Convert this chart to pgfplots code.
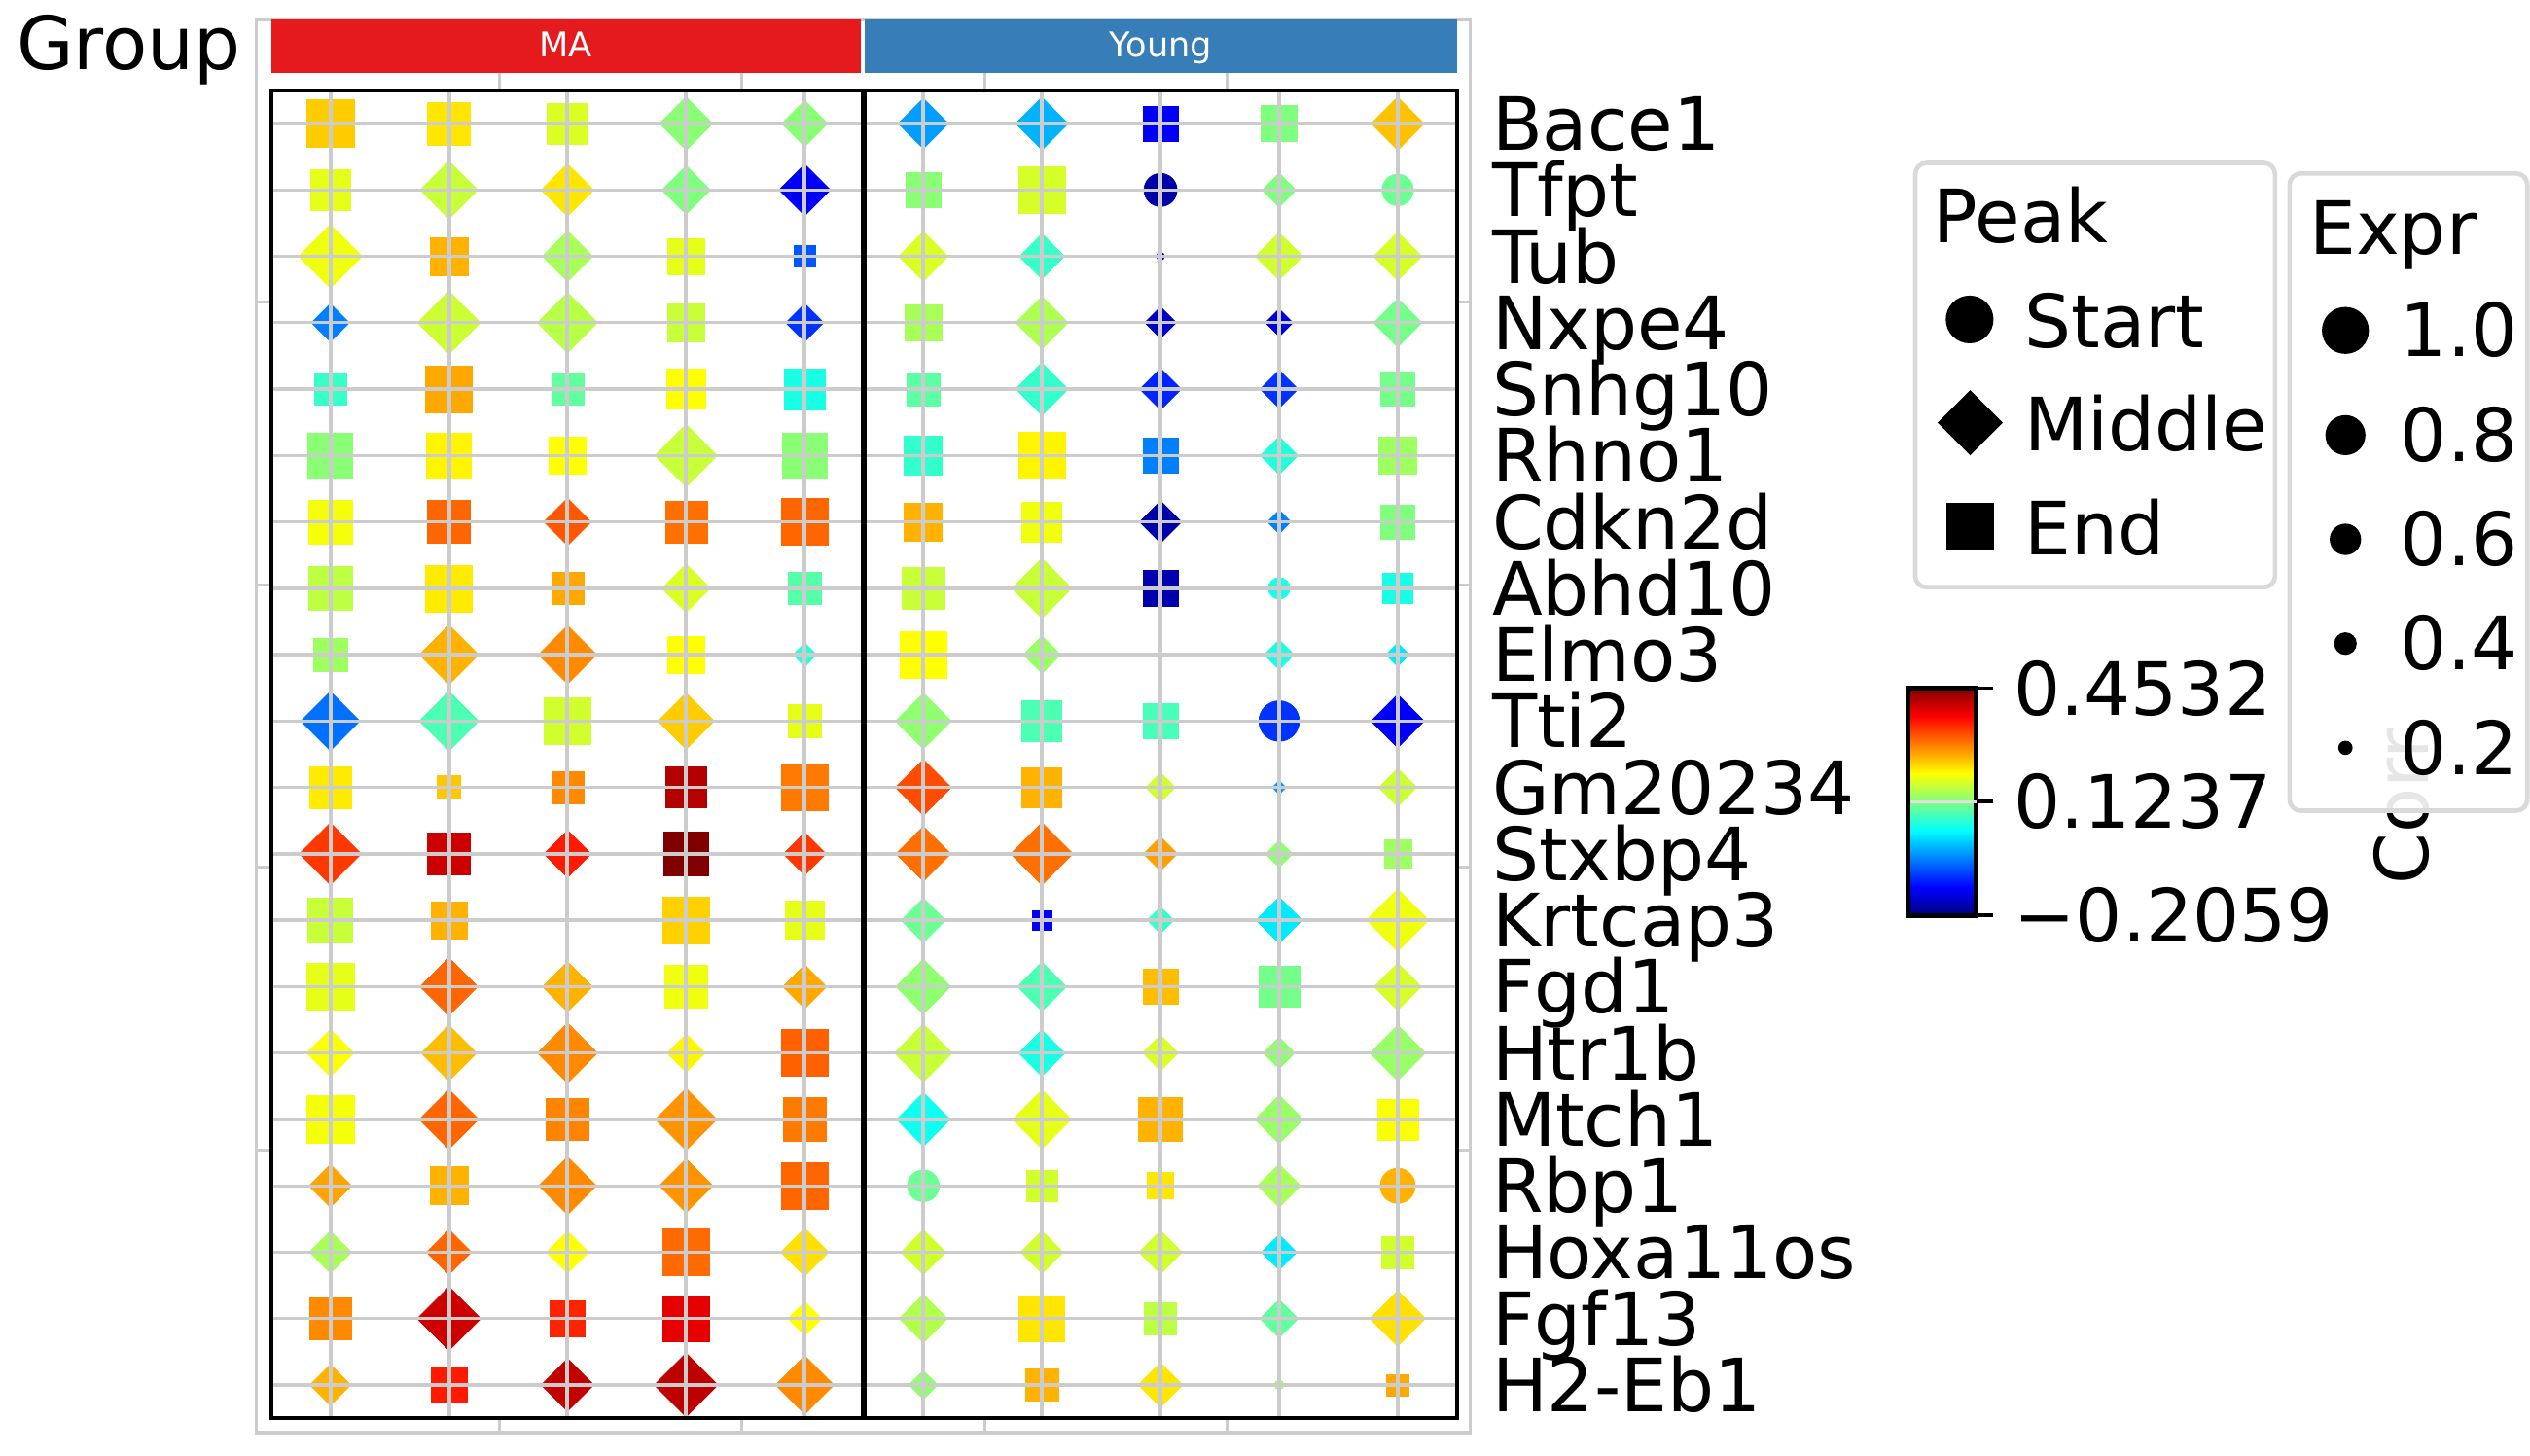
\documentclass[border=0pt]{standalone}
\usepackage{fontspec}
\setmainfont{DejaVu Sans}
\usepackage{pgfplots}
\usepackage{pgfplotstable}
\pgfplotsset{compat=1.18}
\definecolor{gridgray}{HTML}{CCCCCC}
\definecolor{boxgray}{HTML}{D9D9D9}
\definecolor{grpred}{HTML}{E41A1C}
\definecolor{grpblue}{HTML}{377EB8}
\newcommand{\bigfont}{\fontsize{11.4}{13}\selectfont}

\pgfdeclareplotmark{dmd}{%
  \pgfpathmoveto{\pgfqpoint{0pt}{1.41421\pgfplotmarksize}}%
  \pgfpathlineto{\pgfqpoint{1.41421\pgfplotmarksize}{0pt}}%
  \pgfpathlineto{\pgfqpoint{0pt}{-1.41421\pgfplotmarksize}}%
  \pgfpathlineto{\pgfqpoint{-1.41421\pgfplotmarksize}{0pt}}%
  \pgfpathclose
  \pgfusepathqfillstroke}

\pgfplotsset{
  peakmarks/.style={
    scatter, only marks, mark=#1,
    point meta=explicit,
    scatter/use mapped color={draw=mapped color, fill=mapped color},
    mark options={line width=0.1pt},
    visualization depends on={0.4625+3.1875*\thisrow{e} \as \msize},
    scatter/@pre marker code/.append style={/tikz/mark size=\msize},
  }
}

% columns: x (0.5..4.5 = MA, 5.5..9.5 = Young), y (19.5 = Bace1 ... 0.5 = H2-Eb1), e = Expr, c = Corr
\pgfplotstableread{
x y e c
7.5 18.5 0.66 -0.1795
9.5 18.5 0.62 0.1105
7.5 17.5 0.05 -0.1729
8.5 12.5 0.38 0.0577
8.5 10.5 0.84 -0.0906
5.5 3.5 0.63 0.1105
9.5 3.5 0.71 0.2555
8.5 0.5 0.09 0.1434
}\startdata

\pgfplotstableread{
x y e c
3.5 19.5 0.77 0.1302
4.5 19.5 0.65 0.1302
5.5 19.5 0.72 -0.0213
6.5 19.5 0.76 -0.0082
9.5 19.5 0.77 0.2456
1.5 18.5 0.85 0.1698
2.5 18.5 0.76 0.2225
3.5 18.5 0.69 0.1237
4.5 18.5 0.74 -0.1268
8.5 18.5 0.44 0.1237
0.5 17.5 0.95 0.1962
2.5 17.5 0.73 0.1500
5.5 17.5 0.71 0.1830
6.5 17.5 0.63 0.0775
8.5 17.5 0.67 0.1764
9.5 17.5 0.69 0.1797
0.5 16.5 0.51 -0.0411
1.5 16.5 0.94 0.1731
2.5 16.5 0.89 0.1599
4.5 16.5 0.51 -0.0906
6.5 16.5 0.76 0.1533
7.5 16.5 0.40 -0.1598
8.5 16.5 0.33 -0.1466
9.5 16.5 0.69 0.1171
6.5 15.5 0.76 0.0742
7.5 15.5 0.57 -0.1004
8.5 15.5 0.51 -0.0906
3.5 14.5 0.93 0.1698
8.5 14.5 0.51 0.0643
2.5 13.5 0.67 0.3148
7.5 13.5 0.58 -0.1795
8.5 13.5 0.26 -0.0411
3.5 12.5 0.69 0.1830
6.5 12.5 0.89 0.1698
1.5 11.5 0.88 0.2555
2.5 11.5 0.86 0.2818
4.5 11.5 0.26 0.0643
6.5 11.5 0.50 0.1401
8.5 11.5 0.37 0.0577
9.5 11.5 0.26 0.0281
0.5 10.5 0.87 -0.0510
1.5 10.5 0.88 0.0907
3.5 10.5 0.82 0.2390
5.5 10.5 0.82 0.1335
9.5 10.5 0.77 -0.1268
5.5 9.5 0.82 0.3214
7.5 9.5 0.36 0.1764
8.5 9.5 0.09 -0.0213
9.5 9.5 0.51 0.1731
0.5 8.5 0.92 0.3346
2.5 8.5 0.67 0.3543
4.5 8.5 0.59 0.3346
5.5 8.5 0.80 0.2983
6.5 8.5 0.93 0.2983
7.5 8.5 0.44 0.2687
8.5 8.5 0.32 0.1335
5.5 7.5 0.62 0.1105
7.5 7.5 0.31 0.0742
8.5 7.5 0.65 0.0281
9.5 7.5 0.93 0.1962
1.5 6.5 0.85 0.3049
2.5 6.5 0.72 0.2555
4.5 6.5 0.61 0.2621
5.5 6.5 0.80 0.1335
6.5 6.5 0.70 0.0907
9.5 6.5 0.67 0.1797
0.5 5.5 0.67 0.2027
1.5 5.5 0.81 0.2489
2.5 5.5 0.89 0.2818
3.5 5.5 0.51 0.2126
5.5 5.5 0.85 0.1698
6.5 5.5 0.65 0.0577
7.5 5.5 0.47 0.1830
8.5 5.5 0.40 0.1335
9.5 5.5 0.81 0.1401
1.5 4.5 0.88 0.3049
3.5 4.5 0.92 0.2752
5.5 4.5 0.78 0.0511
6.5 4.5 0.87 0.1896
8.5 4.5 0.69 0.1401
0.5 3.5 0.59 0.2654
2.5 3.5 0.85 0.2818
3.5 3.5 0.78 0.2752
8.5 3.5 0.60 0.1500
0.5 2.5 0.58 0.1500
1.5 2.5 0.63 0.3049
2.5 2.5 0.58 0.2060
4.5 2.5 0.68 0.2258
5.5 2.5 0.63 0.1764
6.5 2.5 0.59 0.1764
7.5 2.5 0.60 0.1764
8.5 2.5 0.46 0.0281
1.5 1.5 0.95 0.4038
4.5 1.5 0.44 0.2060
5.5 1.5 0.69 0.1566
8.5 1.5 0.51 0.1039
9.5 1.5 0.81 0.2258
0.5 0.5 0.56 0.2555
2.5 0.5 0.76 0.4104
3.5 0.5 0.95 0.4137
4.5 0.5 0.86 0.2818
5.5 0.5 0.35 0.1335
7.5 0.5 0.62 0.2225
}\middledata

\pgfplotstableread{
x y e c
0.5 19.5 1.00 0.2390
1.5 19.5 0.89 0.2225
2.5 19.5 0.84 0.1830
7.5 19.5 0.71 -0.1268
8.5 19.5 0.74 0.1237
0.5 18.5 0.83 0.1896
5.5 18.5 0.71 0.1302
6.5 18.5 1.00 0.1797
1.5 17.5 0.78 0.2555
3.5 17.5 0.74 0.1896
4.5 17.5 0.38 -0.0675
3.5 16.5 0.77 0.1698
5.5 16.5 0.74 0.1500
0.5 15.5 0.63 0.0775
1.5 15.5 0.99 0.2621
2.5 15.5 0.63 0.1039
3.5 15.5 0.82 0.2060
4.5 15.5 0.85 0.0577
5.5 15.5 0.66 0.1006
9.5 15.5 0.68 0.1171
0.5 14.5 0.95 0.1302
1.5 14.5 0.93 0.2126
2.5 14.5 0.76 0.2060
4.5 14.5 0.93 0.1302
5.5 14.5 0.78 0.0742
6.5 14.5 1.00 0.2126
7.5 14.5 0.71 -0.0411
9.5 14.5 0.76 0.1434
0.5 13.5 0.91 0.1994
1.5 13.5 0.89 0.3049
3.5 13.5 0.87 0.2983
4.5 13.5 0.99 0.3049
5.5 13.5 0.78 0.2555
6.5 13.5 0.83 0.1962
9.5 13.5 0.67 0.1237
0.5 12.5 0.91 0.1632
1.5 12.5 0.99 0.2192
2.5 12.5 0.63 0.2621
4.5 12.5 0.65 0.0973
5.5 12.5 0.89 0.1698
7.5 12.5 0.71 -0.1762
9.5 12.5 0.60 0.0577
0.5 11.5 0.67 0.1434
3.5 11.5 0.74 0.2060
5.5 11.5 0.99 0.2060
2.5 10.5 0.99 0.1764
4.5 10.5 0.67 0.1896
6.5 10.5 0.83 0.0907
7.5 10.5 0.71 0.0874
0.5 9.5 0.87 0.2192
1.5 9.5 0.42 0.2423
2.5 9.5 0.63 0.2818
3.5 9.5 0.85 0.4203
4.5 9.5 0.99 0.2917
6.5 9.5 0.83 0.2555
1.5 8.5 0.89 0.4038
3.5 8.5 0.93 0.4532
9.5 8.5 0.52 0.1434
0.5 7.5 0.95 0.1698
1.5 7.5 0.74 0.2555
3.5 7.5 0.99 0.2357
4.5 7.5 0.78 0.1896
6.5 7.5 0.32 -0.1268
0.5 6.5 1.00 0.1896
3.5 6.5 0.91 0.1962
7.5 6.5 0.71 0.2489
8.5 6.5 0.84 0.1171
4.5 5.5 0.99 0.3082
0.5 4.5 1.00 0.1994
2.5 4.5 0.89 0.2851
4.5 4.5 0.91 0.2917
7.5 4.5 0.91 0.2555
9.5 4.5 0.85 0.2027
1.5 3.5 0.78 0.2555
4.5 3.5 0.99 0.3049
6.5 3.5 0.62 0.1764
7.5 3.5 0.49 0.2225
3.5 2.5 0.99 0.3016
9.5 2.5 0.64 0.1764
0.5 1.5 0.87 0.2818
2.5 1.5 0.72 0.3477
3.5 1.5 0.98 0.3873
6.5 1.5 0.96 0.2225
7.5 1.5 0.63 0.1632
1.5 0.5 0.74 0.3543
6.5 0.5 0.65 0.2555
9.5 0.5 0.38 0.2621
}\enddata

\begin{document}
\begin{tikzpicture}
\begin{scope}[x=0.25pt,y=-0.25pt]
\useasboundingbox (0,0) rectangle (1568,902);
% light outer frame with inward ticks
\draw[gridgray, line width=0.5pt] (159,12) rectangle (911,888);
\foreach \xx in {309.4,459.8,610.2,760.6} {
  \draw[gridgray, line width=0.5pt] (\xx,45) -- (\xx,56);
  \draw[gridgray, line width=0.5pt] (\xx,879) -- (\xx,888);
}
\foreach \yy in {187.2,362.4,537.6,712.8} {
  \draw[gridgray, line width=0.5pt] (159,\yy) -- (168,\yy);
  \draw[gridgray, line width=0.5pt] (903,\yy) -- (911,\yy);
}
% group bars
\fill[grpred] (168,12) rectangle (533.5,45);
\fill[grpblue] (536,12) rectangle (903,45);
\node[anchor=base, text=white, font=\fontsize{5.3}{6}\selectfont, inner sep=0pt] at (350.75,35.5) {MA};
\node[anchor=base, text=white, font=\fontsize{5.3}{6}\selectfont, inner sep=0pt] at (719.5,35.5) {Young};
\node[anchor=base west, font=\bigfont, inner sep=0pt] at (9.5,43) {Group};
\end{scope}

\begin{axis}[
  at={(42pt,-219.75pt)}, anchor=south west,
  scale only axis, width=183.75pt, height=205.75pt,
  xmin=0, xmax=10, ymin=0, ymax=20,
  axis line style={line width=0.6pt},
  xtick=\empty,
  ytick={0.5,1.5,2.5,3.5,4.5,5.5,6.5,7.5,8.5,9.5,10.5,11.5,12.5,13.5,14.5,15.5,16.5,17.5,18.5,19.5},
  yticklabels={H2-Eb1,Fgf13,Hoxa11os,Rbp1,Mtch1,Htr1b,Fgd1,Krtcap3,Stxbp4,Gm20234,Tti2,Elmo3,Abhd10,Cdkn2d,Rhno1,Snhg10,Nxpe4,Tub,Tfpt,Bace1},
  yticklabel pos=right,
  major tick length=0pt,
  ytick style={draw=none},
  yticklabel style={anchor=west, inner sep=0pt, xshift=5.25pt, font=\bigfont, text height=8.3pt, text depth=0pt},
  colormap/jet,
  point meta min=-0.2059, point meta max=0.4532,
  clip=false,
]
\addplot[peakmarks=*] table[x=x, y=y, meta=c] {\startdata};
\addplot[peakmarks=dmd] table[x=x, y=y, meta=c] {\middledata};
\addplot[peakmarks=square*] table[x=x, y=y, meta=c] {\enddata};
\end{axis}

\begin{scope}[x=0.25pt,y=-0.25pt]
% grid lines over the markers
\foreach \i in {0,...,19} {
  \draw[gridgray, line width=0.5pt] (168,{56+41.15*(\i+0.5)}) -- (903,{56+41.15*(\i+0.5)});
}
\foreach \j in {0,...,9} {
  \draw[gridgray, line width=0.6pt] ({168+73.5*(\j+0.5)},56) -- ({168+73.5*(\j+0.5)},879);
}
\draw[black, line width=0.6pt] (168,56) rectangle (903,879);
\draw[black, line width=0.9pt] (535.5,56) -- (535.5,879);
% colorbar title (partly covered by the Expr legend)
\node[rotate=90, anchor=base west, font=\bigfont, inner sep=0pt] at (1505,549) {Corr};
% Peak legend
\draw[boxgray, line width=0.7pt, rounded corners=1.75pt, fill=white, fill opacity=0.85] (1187,101) rectangle (1410,364);
\node[anchor=base west, font=\bigfont, inner sep=0pt] at (1197.6,150.4) {Peak};
\fill[black] (1220.7,198) circle[radius=3.7pt];
\fill[black] (1200.8,262) -- (1221,241.8) -- (1241.2,262) -- (1221,282.2) -- cycle;
\fill[black] (1206.2,311.8) rectangle (1235.8,341.4);
\node[anchor=base west, font=\bigfont, inner sep=0pt] at (1254,215.8) {Start};
\node[anchor=base west, font=\bigfont, inner sep=0pt] at (1254,279.6) {Middle};
\node[anchor=base west, font=\bigfont, inner sep=0pt] at (1254,344.2) {End};
% Expr legend
\draw[boxgray, line width=0.7pt, rounded corners=1.75pt, fill=white, fill opacity=0.9] (1419,107.5) rectangle (1566.3,502.5);
\node[anchor=base west, font=\bigfont, inner sep=0pt] at (1430.6,157.5) {Expr};
\fill[black] (1453.6,204.8) circle[radius=3.64pt];
\fill[black] (1453.6,269.7) circle[radius=3.10pt];
\fill[black] (1453.6,334.3) circle[radius=2.43pt];
\fill[black] (1453.6,398.9) circle[radius=1.75pt];
\fill[black] (1453.6,463.5) circle[radius=1.11pt];
\node[anchor=base west, font=\bigfont, inner sep=0pt] at (1487,221.2) {1.0};
\node[anchor=base west, font=\bigfont, inner sep=0pt] at (1487,286.1) {0.8};
\node[anchor=base west, font=\bigfont, inner sep=0pt] at (1487,350.7) {0.6};
\node[anchor=base west, font=\bigfont, inner sep=0pt] at (1487,415.3) {0.4};
\node[anchor=base west, font=\bigfont, inner sep=0pt] at (1487,479.9) {0.2};
\end{scope}

\pgfplotscolorbardrawstandalone[
  colormap/jet,
  point meta min=-0.2059, point meta max=0.4532,
  colorbar style={
    at={(287.125pt,-141.875pt)}, anchor=south west,
    scale only axis, width=10.5pt, height=35.25pt,
    ytick={-0.20589,0.1237,0.45319},
    yticklabels={−0.2059,0.1237,0.4532},
    yticklabel pos=right,
    ytick pos=right,
    tick align=outside, major tick length=2.7pt,
    major tick style={black, line width=0.6pt},
    axis line style={line width=0.65pt},
    yticklabel style={font=\bigfont, anchor=west, inner sep=0pt, xshift=3pt, text height=8.3pt, text depth=0pt},
  },
]
\begin{scope}[x=0.25pt,y=-0.25pt]
\draw[gray!25, line width=0.4pt] (1184,497) -- (1225,497);
\end{scope}
\end{tikzpicture}
\end{document}
